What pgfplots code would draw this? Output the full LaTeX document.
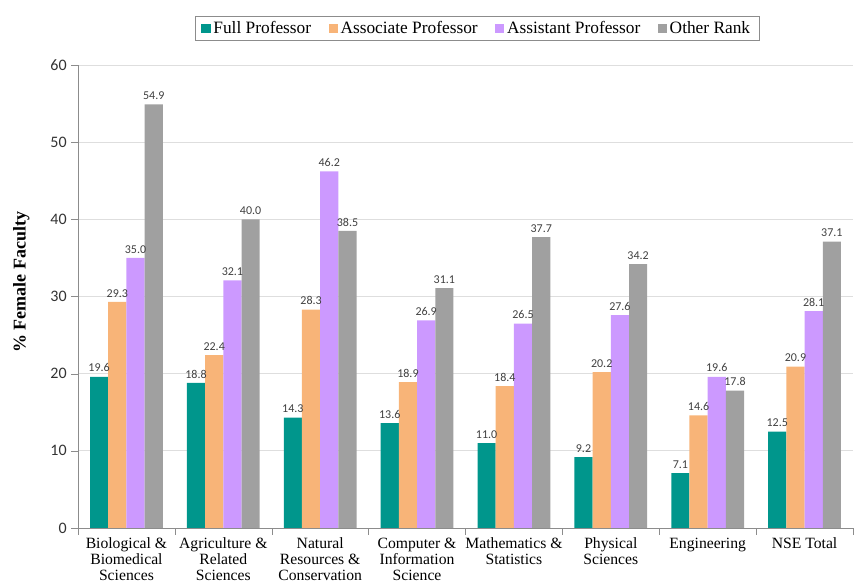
\documentclass[border=0pt]{standalone}
\usepackage{pgfplots}
\pgfplotsset{compat=1.18}
\usepackage{fontspec}
\setmainfont{Liberation Serif}
\newfontfamily\carlito{Carlito}
\definecolor{cfull}{RGB}{0,150,140}
\definecolor{cassoc}{RGB}{248,180,120}
\definecolor{cassist}{RGB}{204,153,255}
\definecolor{cother}{RGB}{160,160,160}
\definecolor{axgray}{RGB}{140,140,140}
\definecolor{gridgray}{RGB}{222,222,222}
\begin{document}
\begin{tikzpicture}
\begin{axis}[
  at={(0,0)}, anchor=south west,
  scale only axis,
  width=581.25pt, height=347.25pt,
  ybar=0pt, bar width=0.188,
  xmin=-0.5, xmax=7.5,
  ymin=0, ymax=60,
  ytick={0,10,...,60},
  xtick={0,...,7},
  xticklabels={{Biological \&\\Biomedical\\Sciences},{Agriculture \&\\Related\\Sciences},{Natural\\Resources \&\\Conservation},{Computer \&\\Information\\Science},{Mathematics \&\\Statistics},{Physical\\Sciences},{Engineering},{NSE Total}},
  minor xtick={-0.5,0.5,...,7.5},
  x tick style={draw=none},
  minor x tick style={draw=axgray},
  axis x line*=bottom, axis y line*=left,
  axis line style={draw=axgray, thin},
  tick align=outside,
  major tick length=5pt, minor tick length=5pt,
  y tick style={draw=axgray},
  ymajorgrids, grid style={draw=gridgray, line width=0.5pt},
  xticklabel style={align=center, font=\fontsize{11.75}{12}\selectfont, yshift=1pt},
  yticklabel style={font=\carlito\fontsize{12}{14}\selectfont, text=black!80},
  /pgf/number format/assume math mode=true,
  ylabel={\textbf{\% Female Faculty}},
  ylabel style={font=\fontsize{13.5}{15}\selectfont, at={(axis description cs:-0.073,0.531)}, anchor=center},
  nodes near coords,
  nodes near coords style={font=\carlito\fontsize{9}{10}\selectfont, text=black!75, /pgf/number format/.cd, fixed, fixed zerofill, precision=1, assume math mode=true},
  every axis plot/.append style={draw=none},
  legend columns=4,
  legend style={at={(0.515,1)}, anchor=south, yshift=18pt, draw=axgray, font=\fontsize{13}{15}\selectfont, /tikz/every even column/.append style={column sep=11pt}, inner xsep=5pt, inner ysep=2pt},
  legend image code/.code={\fill[#1] (0pt,-3.5pt) rectangle (7pt,3.5pt);},
]
\addplot[fill=cfull] coordinates {(0,19.6) (1,18.8) (2,14.3) (3,13.6) (4,11.0) (5,9.2) (6,7.1) (7,12.5)};
\addplot[fill=cassoc] coordinates {(0,29.3) (1,22.4) (2,28.3) (3,18.9) (4,18.4) (5,20.2) (6,14.6) (7,20.9)};
\addplot[fill=cassist] coordinates {(0,35.0) (1,32.1) (2,46.2) (3,26.9) (4,26.5) (5,27.6) (6,19.6) (7,28.1)};
\addplot[fill=cother] coordinates {(0,54.9) (1,40.0) (2,38.5) (3,31.1) (4,37.7) (5,34.2) (6,17.8) (7,37.1)};
\legend{Full Professor, Associate Professor, Assistant Professor, Other Rank}
\end{axis}
\pgfresetboundingbox
\useasboundingbox (-58.5pt,-42.75pt) rectangle (582pt,396pt);
\end{tikzpicture}
\end{document}
